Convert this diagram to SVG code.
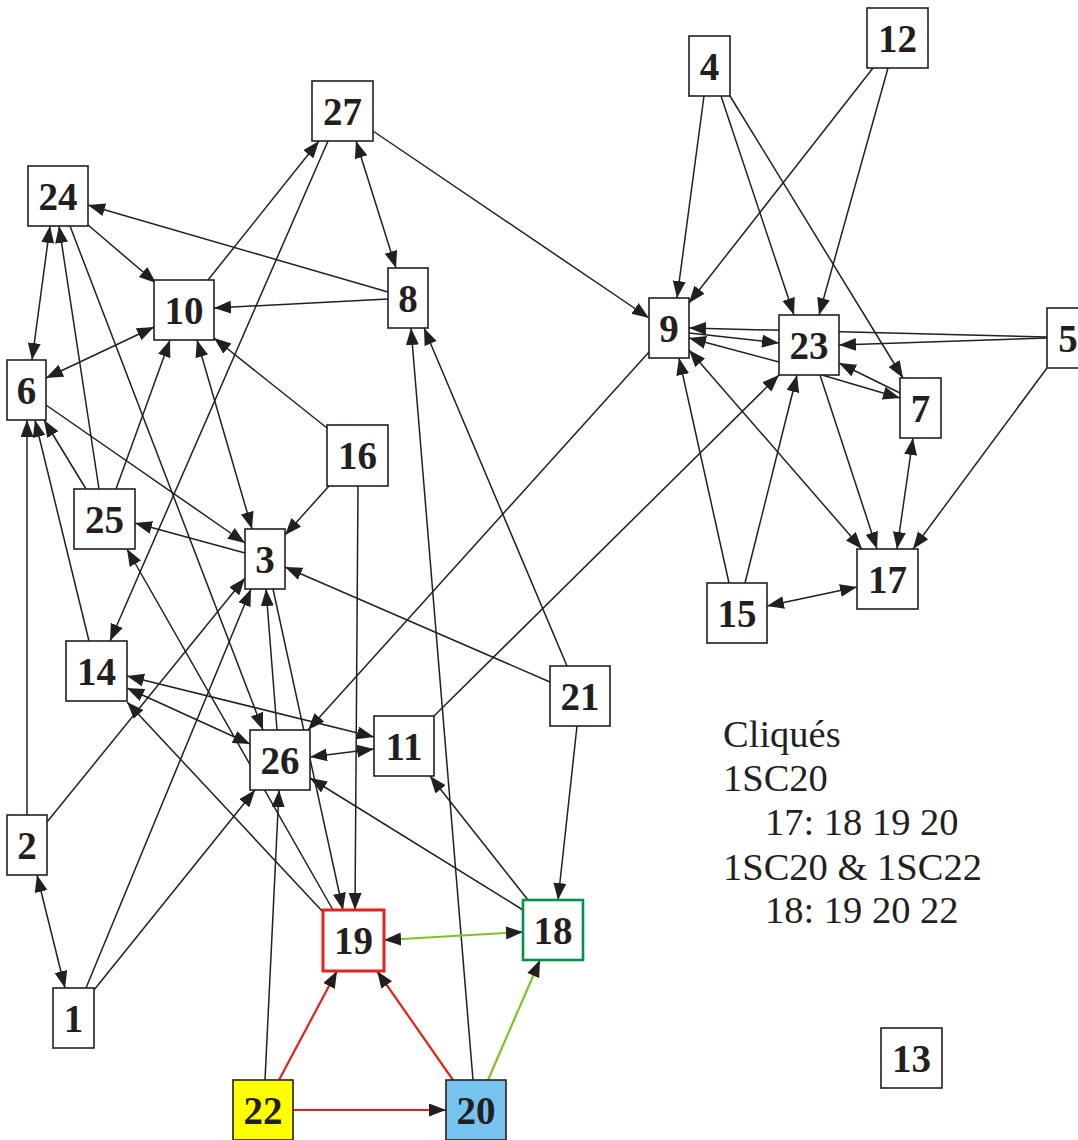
<svg xmlns="http://www.w3.org/2000/svg" width="1078" height="1140" viewBox="0 0 1078 1140">
<defs>
<style>
.e{stroke:#231f20;stroke-width:1.5;fill:none;marker-end:url(#ah)}
.b{marker-start:url(#ah)}
.r{stroke:#e2231a;stroke-width:2.2}
.g{stroke:#7cc520;stroke-width:2.2}
.n rect{fill:#fff;stroke:#231f20;stroke-width:1.6}
.n text{font-family:"Liberation Serif","Times New Roman",serif;font-weight:bold;font-size:39px;fill:#231f20;text-anchor:middle}
.lg{font-family:"Liberation Serif","Times New Roman",serif;font-size:38.5px;fill:#231f20}
</style>
<marker id="ah" markerUnits="userSpaceOnUse" markerWidth="18" markerHeight="14" refX="17" refY="6.5" orient="auto-start-reverse" viewBox="0 0 18 14">
<path d="M0,0 L17,6.5 L0,13 z" fill="#231f20"/>
</marker>
</defs>
<rect width="1078" height="1140" fill="#fff"/>
<g id="connectors">
<path class="e" d="M208,280 L319,141"/>
<path class="e" d="M328,141 L110,641"/>
<path class="e b" d="M356,141 L396,268"/>
<path class="e" d="M373,131 L649,318"/>
<path class="e" d="M388,292 L88,205"/>
<path class="e" d="M388,299 L214,308"/>
<path class="e" d="M88,225 L156,283"/>
<path class="e b" d="M50,226 L32,360"/>
<path class="e" d="M99,489 L59,226"/>
<path class="e" d="M70,226 L263,730"/>
<path class="e b" d="M46,378 L154,327"/>
<path class="e" d="M116,489 L170,340"/>
<path class="e b" d="M197,340 L252,529"/>
<path class="e" d="M327,428 L214,338"/>
<path class="e" d="M46,405 L245,543"/>
<path class="e" d="M27,815 L27,420"/>
<path class="e" d="M89,641 L35,420"/>
<path class="e" d="M86,489 L44,420"/>
<path class="e" d="M245,553 L135,523"/>
<path class="e" d="M333,910 L127,549"/>
<path class="e" d="M273,589 L343,910"/>
<path class="e" d="M277,730 L266,589"/>
<path class="e" d="M47,822 L245,578"/>
<path class="e" d="M86,988 L251,589"/>
<path class="e" d="M94,990 L255,790"/>
<path class="e" d="M329,486 L285,535"/>
<path class="e" d="M550,682 L285,567"/>
<path class="e b" d="M127,676 L374,737"/>
<path class="e b" d="M127,688 L250,744"/>
<path class="e" d="M323,912 L127,702"/>
<path class="e" d="M649,352 L308,730"/>
<path class="e b" d="M310,757 L374,749"/>
<path class="e" d="M523,910 L310,778"/>
<path class="e" d="M265,1080 L279,790"/>
<path class="e" d="M434,716 L779,375"/>
<path class="e" d="M528,900 L430,776"/>
<path class="e" d="M473,1080 L411,328"/>
<path class="e" d="M567,666 L424,328"/>
<path class="e" d="M577,726 L558,900"/>
<path class="e" d="M358,486 L355,910"/>
<path class="e" d="M704,96 L677,298"/>
<path class="e" d="M873,68 L689,303"/>
<path class="e" d="M1047,337 L689,328"/>
<path class="e" d="M1047,338 L839,345"/>
<path class="e" d="M689,333 L779,343"/>
<path class="e" d="M779,362 L689,338"/>
<path class="e b" d="M689,350 L862,549"/>
<path class="e" d="M729,583 L679,358"/>
<path class="e" d="M745,583 L797,375"/>
<path class="e" d="M721,96 L794,315"/>
<path class="e" d="M888,68 L819,315"/>
<path class="e" d="M730,96 L903,378"/>
<path class="e" d="M900,393 L839,363"/>
<path class="e" d="M822,375 L900,398"/>
<path class="e" d="M820,375 L877,549"/>
<path class="e b" d="M913,438 L897,549"/>
<path class="e" d="M1047,368 L913,549"/>
<path class="e b" d="M767,606 L857,587"/>
<path class="e b" d="M37,875 L65,988"/>
<path class="e b g" d="M384,940 L523,932"/>
<path class="e g" d="M488,1080 L540,960"/>
<path class="e r" d="M453,1080 L377,971"/>
<path class="e r" d="M279,1080 L337,971"/>
<path class="e r" d="M293,1110 L446,1110"/>
</g>
<g id="n1" class="n"><rect x="53" y="988" width="41" height="60"/><text x="73.5" y="1032">1</text></g>
<g id="n2" class="n"><rect x="7" y="815" width="40" height="60"/><text x="27" y="859">2</text></g>
<g id="n3" class="n"><rect x="245" y="529" width="40" height="60"/><text x="265" y="573">3</text></g>
<g id="n4" class="n"><rect x="689" y="36" width="41" height="60"/><text x="709.5" y="80">4</text></g>
<g id="n5" class="n"><rect x="1047" y="308" width="42" height="60"/><text x="1068" y="352">5</text></g>
<g id="n6" class="n"><rect x="7" y="360" width="39" height="60"/><text x="26.5" y="404">6</text></g>
<g id="n7" class="n"><rect x="900" y="378" width="41" height="60"/><text x="920.5" y="422">7</text></g>
<g id="n8" class="n"><rect x="388" y="268" width="40" height="60"/><text x="408" y="312">8</text></g>
<g id="n9" class="n"><rect x="649" y="298" width="40" height="60"/><text x="669" y="342">9</text></g>
<g id="n10" class="n"><rect x="154" y="280" width="60" height="60"/><text x="184" y="324">10</text></g>
<g id="n11" class="n"><rect x="374" y="716" width="60" height="60"/><text x="404" y="760">11</text></g>
<g id="n12" class="n"><rect x="867" y="8" width="61" height="60"/><text x="897.5" y="52">12</text></g>
<g id="n13" class="n"><rect x="881" y="1028" width="61" height="60"/><text x="911.5" y="1072">13</text></g>
<g id="n14" class="n"><rect x="66" y="641" width="61" height="60"/><text x="96.5" y="685">14</text></g>
<g id="n15" class="n"><rect x="707" y="583" width="60" height="60"/><text x="737" y="627">15</text></g>
<g id="n16" class="n"><rect x="327" y="425" width="61" height="61"/><text x="357.5" y="469">16</text></g>
<g id="n17" class="n"><rect x="857" y="549" width="61" height="60"/><text x="887.5" y="593">17</text></g>
<g id="n18" class="n"><rect x="523" y="900" width="60" height="60" style="stroke:#00934a;stroke-width:2.6"/><text x="553" y="944">18</text></g>
<g id="n19" class="n"><rect x="323" y="910" width="61" height="61" style="stroke:#e2231a;stroke-width:3"/><text x="353.5" y="954">19</text></g>
<g id="n20" class="n"><rect x="446" y="1080" width="60" height="60" style="fill:#76c3f0"/><text x="476" y="1124">20</text></g>
<g id="n21" class="n"><rect x="550" y="666" width="60" height="60"/><text x="580" y="710">21</text></g>
<g id="n22" class="n"><rect x="233" y="1080" width="60" height="60" style="fill:#ffff00"/><text x="263" y="1124">22</text></g>
<g id="n23" class="n"><rect x="779" y="315" width="60" height="60"/><text x="809" y="359">23</text></g>
<g id="n24" class="n"><rect x="28" y="166" width="60" height="60"/><text x="58" y="210">24</text></g>
<g id="n25" class="n"><rect x="74" y="489" width="61" height="60"/><text x="104.5" y="533">25</text></g>
<g id="n26" class="n"><rect x="250" y="730" width="60" height="60"/><text x="280" y="774">26</text></g>
<g id="n27" class="n"><rect x="312" y="81" width="61" height="60"/><text x="342.5" y="125">27</text></g>
<g id="legend">
<text class="lg" x="723" y="747">Cliqués</text>
<text class="lg" x="723" y="791">1SC20</text>
<text class="lg" x="765" y="835">17: 18 19 20</text>
<text class="lg" x="723" y="880">1SC20 &amp; 1SC22</text>
<text class="lg" x="765" y="923">18: 19 20 22</text>
</g>
</svg>
